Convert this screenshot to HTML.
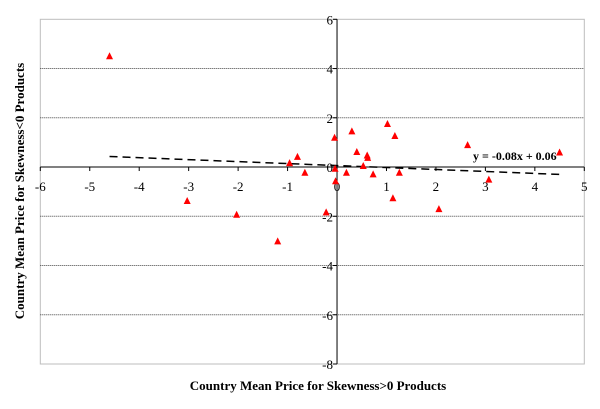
<!DOCTYPE html>
<html><head><meta charset="utf-8"><style>
html,body{margin:0;padding:0;background:#fff;}
svg{display:block;font-family:"Liberation Serif",serif;}
</style></head><body>
<svg id="chart" width="600" height="409" viewBox="0 0 600 409">
<rect x="40.3" y="19.3" width="544" height="344.7" fill="#fff" stroke="#bdbdbd" stroke-width="1"/>
<g id="grid"></g>
<g id="axes"></g>
<g id="trend"></g>
<g id="points"></g>
<text x="318" y="390" text-anchor="middle" font-size="13" font-weight="bold">Country Mean Price for Skewness&gt;0 Products</text>
<text transform="translate(24,191) rotate(-90)" text-anchor="middle" font-size="13" font-weight="bold">Country Mean Price for Skewness&lt;0 Products</text>
</svg>
<script>
const xValues=[-4.6,-0.80,-0.96,-0.65,-3.03,-2.03,-1.2,-0.22,-0.05,-0.04,-0.03,0.19,0.30,0.40,0.53,0.61,0.62,0.73,1.02,1.17,1.26,1.13,2.06,2.64,3.07,4.50];
const yValues=[4.5,0.41,0.16,-0.23,-1.38,-1.94,-3.02,-1.84,1.19,-0.07,-0.58,-0.23,1.45,0.61,0.04,0.47,0.37,-0.30,1.75,1.26,-0.23,-1.27,-1.71,0.89,-0.51,0.59];
const xTicks=[-6,-5,-4,-3,-2,-1,0,1,2,3,4,5];
const yTicks=[6,4,2,0,-2,-4,-6,-8];
const trendSlope=-0.08, trendIntercept=0.06;
const trendRange=[-4.6,4.5];
const NS="http://www.w3.org/2000/svg";
const X0=40.3,X1=584.3,Y0=19.3,Y1=364;
function sx(v){return X0+(v+6)/11*(X1-X0);}
function sy(v){return Y0+(6-v)/14*(Y1-Y0);}
function mk(tag,attrs,parent){const e=document.createElementNS(NS,tag);for(const k in attrs)e.setAttribute(k,attrs[k]);parent.appendChild(e);return e;}
const grid=document.getElementById('grid'),axes=document.getElementById('axes'),pts=document.getElementById('points'),tr=document.getElementById('trend');
yTicks.forEach(t=>{
  if(t!==0&&t!==6&&t!==-8){
    const l=mk('line',{x1:X0,x2:X1,y1:sy(t),y2:sy(t),stroke:'#444','stroke-width':1,'stroke-dasharray':'1,1'},grid);
    
    
  }
  const tk=mk('line',{x1:sx(0)-4,x2:sx(0),y1:sy(t),y2:sy(t),stroke:'#000'},axes);
  
  
  const tx=mk('text',{x:sx(0)-4,y:sy(t)+5,'text-anchor':'end','font-size':13},axes);
  tx.textContent=t;
  
  
});
xTicks.forEach(t=>{
  const tk=mk('line',{x1:sx(t),x2:sx(t),y1:sy(0),y2:sy(0)+4,stroke:'#000'},axes);
  
  
  const tx=mk('text',{x:sx(t),y:sy(0)+24,'text-anchor':'middle','font-size':13},axes);
  tx.textContent=t;
  
  
});
const xa=mk('line',{x1:X0,x2:X1,y1:sy(0),y2:sy(0),stroke:'#000','stroke-width':1},axes);


const ya=mk('line',{x1:sx(0),x2:sx(0),y1:Y0,y2:Y1,stroke:'#000','stroke-width':1},axes);


const tl=mk('line',{x1:sx(trendRange[0]),y1:sy(trendSlope*trendRange[0]+trendIntercept),x2:sx(trendRange[1]),y2:sy(trendSlope*trendRange[1]+trendIntercept),stroke:'#000','stroke-width':1.5,'stroke-dasharray':'8,5'},tr);


const eq=mk('text',{x:473,y:160,'font-size':12,'font-weight':'bold'},tr);
eq.textContent='y = -0.08x + 0.06';


xValues.forEach((v,i)=>{
  const cx=sx(v),cy=sy(yValues[i]);
  const p=mk('polygon',{points:`${cx},${cy-4} ${cx-3.5},${cy+3} ${cx+3.5},${cy+3}`,fill:'#ff0000'},pts);
  
  
});
</script>
</body></html>
